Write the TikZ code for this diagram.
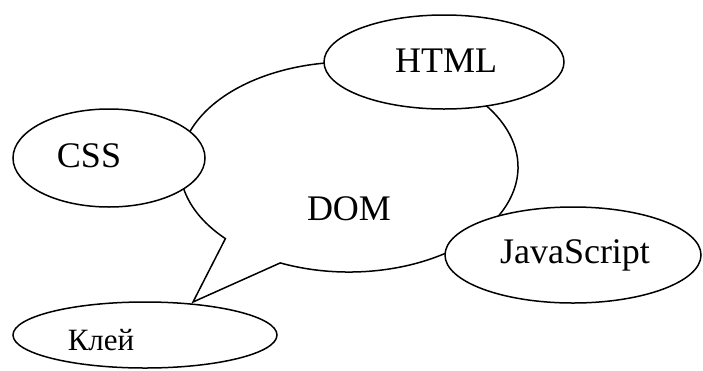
\documentclass[tikz,border=0pt]{standalone}
\usepackage{fontspec}
\setmainfont{Liberation Serif}
\usetikzlibrary{shapes.geometric}
\tikzset{
  blob/.style={draw, ellipse, fill=white, line width=1.5pt, inner sep=0pt},
  lbl/.style={anchor=base, inner sep=0pt, font=\fontsize{36}{40}\selectfont},
  smalllbl/.style={anchor=base, inner sep=0pt, font=\fontsize{31}{35}\selectfont},
}
\begin{document}
\begin{tikzpicture}[x=1pt,y=-1pt]
\useasboundingbox (0,0) rectangle (703,370);
% speech bubble
\coordinate (tip) at (193,302);
\draw[line width=1.5pt, fill=white, line join=miter]
  (349,167) ++(114:169 and 105) coordinate (bs)
  arc[start angle=114, end angle=-223, x radius=169, y radius=105] coordinate (be)
  -- (tip) -- cycle;
\node[lbl] (dom) at (349,220) {DOM};
% ellipses
\node[blob, minimum width=192pt, minimum height=98pt] (css) at (109,158) {};
\node[lbl] (csst) at (89,167) {CSS};
\node[blob, minimum width=240pt, minimum height=94pt] (html) at (444,62) {};
\node[lbl] (htmlt) at (446,72) {HTML};
\node[blob, minimum width=256pt, minimum height=96pt] (js) at (573,255) {};
\node[lbl] (jst) at (575,263) {JavaScript};
\node[blob, minimum width=264pt, minimum height=66pt] (kley) at (145,335) {};
\node[smalllbl] (kleyt) at (101,350) {Клей};
\end{tikzpicture}
\end{document}
